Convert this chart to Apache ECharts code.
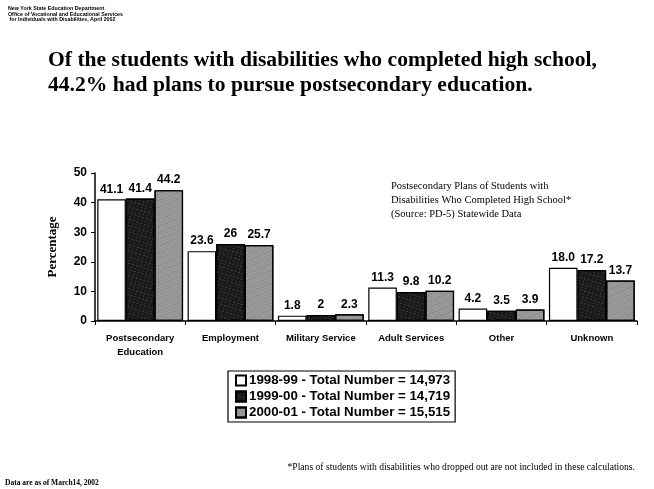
<!DOCTYPE html>
<html><head><meta charset="utf-8">
<script src="https://cdn.jsdelivr.net/npm/echarts@6/dist/echarts.min.js"></script>
<style>html,body{margin:0;padding:0;background:#fff}#c{width:654px;height:489px}</style>
</head><body><div id="c"></div>
<script>
const categories = ['Postsecondary\nEducation','Employment','Military Service','Adult Services','Other','Unknown'];
const seriesNames = ['1998-99 - Total Number = 14,973','1999-00 - Total Number = 14,719','2000-01 - Total Number = 15,515'];
const values9899 = [41.1, 23.6, 1.8, 11.3, 4.2, 18.0];
const values9900 = [41.4, 26, 2, 9.8, 3.5, 17.2];
const values0001 = [44.2, 25.7, 2.3, 10.2, 3.9, 13.7];
const valueLabels9899 = ['41.1','23.6','1.8','11.3','4.2','18.0'];
const valueLabels9900 = ['41.4','26','2','9.8','3.5','17.2'];
const valueLabels0001 = ['44.2','25.7','2.3','10.2','3.9','13.7'];
const yTicks = [0,10,20,30,40,50];

const chart = echarts.init(document.getElementById('c'));
const sans = 'Liberation Sans';
const serif = 'Liberation Serif';
function mk(name, vals, labels, style){
  return {
    name, type:'bar', data: vals, barGap:'0%', barCategoryGap:'5%',
    itemStyle: style,
    label:{show:true, position:'top', distance:4, color:'#000', fontFamily:sans, fontWeight:'bold', fontSize:12,
      formatter:p=>labels[p.dataIndex]},
    emphasis:{disabled:true}
  };
}
chart.setOption({
  animation:false,
  aria:{enabled:false},
  grid:{left:95, right:17, top:173, bottom:168},
  title:[
    {text:'New York State Education Department\nOffice of Vocational and Educational Services\n for Individuals with Disabilities, April 2002',
      left:3, top:1, textStyle:{fontFamily:sans, fontWeight:'bold', fontSize:5.3, lineHeight:5.5, color:'#000'}},
    {text:'Of the students with disabilities who completed high school,\n44.2% had plans to pursue postsecondary education.',
      left:43, top:43, textStyle:{fontFamily:serif, fontWeight:'bold', fontSize:21.6, lineHeight:25, color:'#000'}},
    {text:'Postsecondary Plans of Students with\nDisabilities Who Completed High School*\n(Source: PD-5) Statewide Data',
      left:386, top:174, textStyle:{fontFamily:serif, fontWeight:'normal', fontSize:10.5, lineHeight:14, color:'#000'}},
    {text:'*Plans of students with disabilities who dropped out are not included in these calculations.',
      right:14, top:457, textStyle:{fontFamily:serif, fontWeight:'normal', fontSize:9.6, color:'#000'}},
    {text:'Data are as of March14, 2002',
      left:0, top:474, textStyle:{fontFamily:serif, fontWeight:'bold', fontSize:7.5, color:'#000'}}
  ],
  legend:{
    orient:'vertical', left:228, top:371, itemWidth:10, itemHeight:10, itemGap:3, icon:'rect',
    borderColor:'#000', borderWidth:1.2, padding:[3,5,3,7],
    textStyle:{fontFamily:sans, fontWeight:'bold', fontSize:13.3, lineHeight:12, color:'#000', padding:[0,0,0,-2]},
    data:seriesNames
  },
  xAxis:{
    type:'category', data:categories,
    axisLine:{lineStyle:{color:'#000', width:1.5}},
    axisTick:{show:true, length:4, lineStyle:{color:'#000'}},
    axisLabel:{color:'#000', fontFamily:sans, fontWeight:'bold', fontSize:9.5, margin:10, lineHeight:14, interval:0}
  },
  yAxis:{
    type:'value', min:0, max:50, interval:10,
    name:'Percentage', nameLocation:'middle', nameGap:36, nameRotate:90,
    nameTextStyle:{fontFamily:serif, fontWeight:'bold', fontSize:13, color:'#000'},
    axisLine:{show:true, lineStyle:{color:'#000', width:1.5}},
    axisTick:{show:true, length:4, lineStyle:{color:'#000'}},
    splitLine:{show:false},
    axisLabel:{color:'#000', fontFamily:sans, fontWeight:'bold', fontSize:12, margin:8,
      formatter:v=> yTicks.includes(v) ? String(v) : ''}
  },
  series:[
    mk(seriesNames[0], values9899, valueLabels9899, {color:'#ffffff', borderColor:'#000', borderWidth:1.2}),
    mk(seriesNames[1], values9900, valueLabels9900, {color:'#1a1a1a', borderColor:'#000', borderWidth:1.2,
      decal:{symbol:'rect', color:'rgba(255,255,255,0.6)', symbolSize:0.55, dashArrayX:[[2,2],[1,3]], dashArrayY:[1,2], rotation:0.3}}),
    mk(seriesNames[2], values0001, valueLabels0001, {color:'#9a9a9a', borderColor:'#000', borderWidth:1.2,
      decal:{symbol:'rect', color:'rgba(0,0,0,0.5)', symbolSize:0.6, dashArrayX:[[1,2],[2,1]], dashArrayY:[1,2], rotation:-0.4}})
  ]
});
</script></body></html>
